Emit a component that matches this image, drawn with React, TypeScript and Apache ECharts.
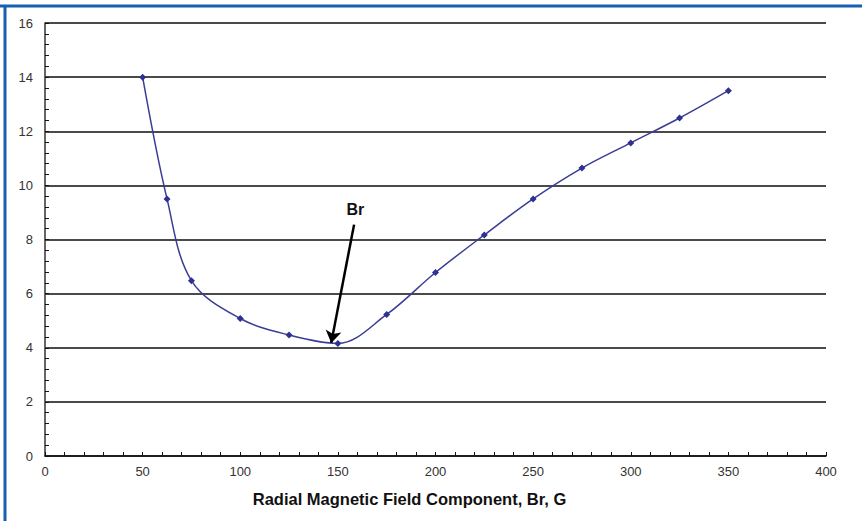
import React, { useEffect, useRef } from "react";
import * as echarts from "echarts";

const fieldBr = [50, 62.5, 75, 100, 125, 150, 175, 200, 225, 250, 275, 300, 325, 350];
const yValues = [14.0, 9.5, 6.48, 5.08, 4.47, 4.16, 5.23, 6.78, 8.17, 9.5, 10.64, 11.57, 12.49, 13.5];
const arrowStart = [158.3, 8.55];
const arrowEnd = [146.6, 4.18];
const arrowLabel = "Br";
const xTitle = "Radial Magnetic Field Component, Br, G";

export default function App() {
  const ref = useRef<HTMLDivElement>(null);
  useEffect(() => {
    document.body.style.margin = "0";
    const chart = echarts.init(ref.current!, null, { renderer: "svg" });
    const font = "Liberation Sans, Arial, sans-serif";
    chart.setOption({
      animation: false,
      backgroundColor: "#fff",
      textStyle: { fontFamily: font },
      grid: { left: 45, right: 36, top: 23, bottom: 65 },
      graphic: [
        { type: "line", shape: { x1: 0, y1: 6, x2: 862, y2: 6 }, style: { stroke: "#1560b0", lineWidth: 3 } },
        { type: "line", shape: { x1: 5, y1: 6, x2: 5, y2: 521 }, style: { stroke: "#1560b0", lineWidth: 3 } },
      ],
      xAxis: {
        type: "value",
        min: 0,
        max: 400,
        interval: 50,
        name: xTitle,
        nameLocation: "middle",
        nameGap: 34,
        nameTextStyle: {
          fontSize: 16.5,
          fontWeight: "bold",
          color: "#111",
          fontFamily: font,
          padding: [0, 52, 0, 0],
        },
        axisLine: { show: true, lineStyle: { color: "#111", width: 1.5 } },
        axisTick: { show: true, inside: true, length: 4, lineStyle: { color: "#111" } },
        minorTick: { show: true, splitNumber: 5, length: 4, lineStyle: { color: "#111" } },
        axisLabel: { fontSize: 13, color: "#333", margin: 9, fontFamily: font },
        splitLine: { show: false },
      },
      yAxis: {
        type: "value",
        min: 0,
        max: 16,
        interval: 2,
        axisLine: { show: true, lineStyle: { color: "#333", width: 1.5 } },
        axisTick: { show: true, inside: true, length: 4, lineStyle: { color: "#111" } },
        minorTick: { show: true, splitNumber: 5, length: 4, lineStyle: { color: "#111" } },
        axisLabel: { fontSize: 13, color: "#333", margin: 12, fontFamily: font },
        splitLine: { show: true, lineStyle: { color: "#4a4a4a", width: 2 } },
      },
      series: [
        {
          type: "line",
          data: fieldBr.map((x, i) => [x, yValues[i]]),
          smooth: 0.35,
          symbol: "diamond",
          symbolSize: 7,
          itemStyle: { color: "#2e3192" },
          lineStyle: { color: "#3a3d96", width: 1.5 },
          markLine: {
            silent: true,
            symbol: ["none", "arrow"],
            symbolSize: 12,
            lineStyle: { color: "#000", width: 2.5, type: "solid" },
            itemStyle: { color: "#000" },
            label: {
              show: true,
              position: "start",
              formatter: arrowLabel,
              fontSize: 16,
              fontWeight: "bold",
              color: "#111",
              fontFamily: font,
              distance: 7,
            },
            data: [[{ coord: arrowStart }, { coord: arrowEnd }]],
          },
        },
      ],
    });
    return () => chart.dispose();
  }, []);
  return <div ref={ref} style={{ width: 862, height: 521 }} />;
}
